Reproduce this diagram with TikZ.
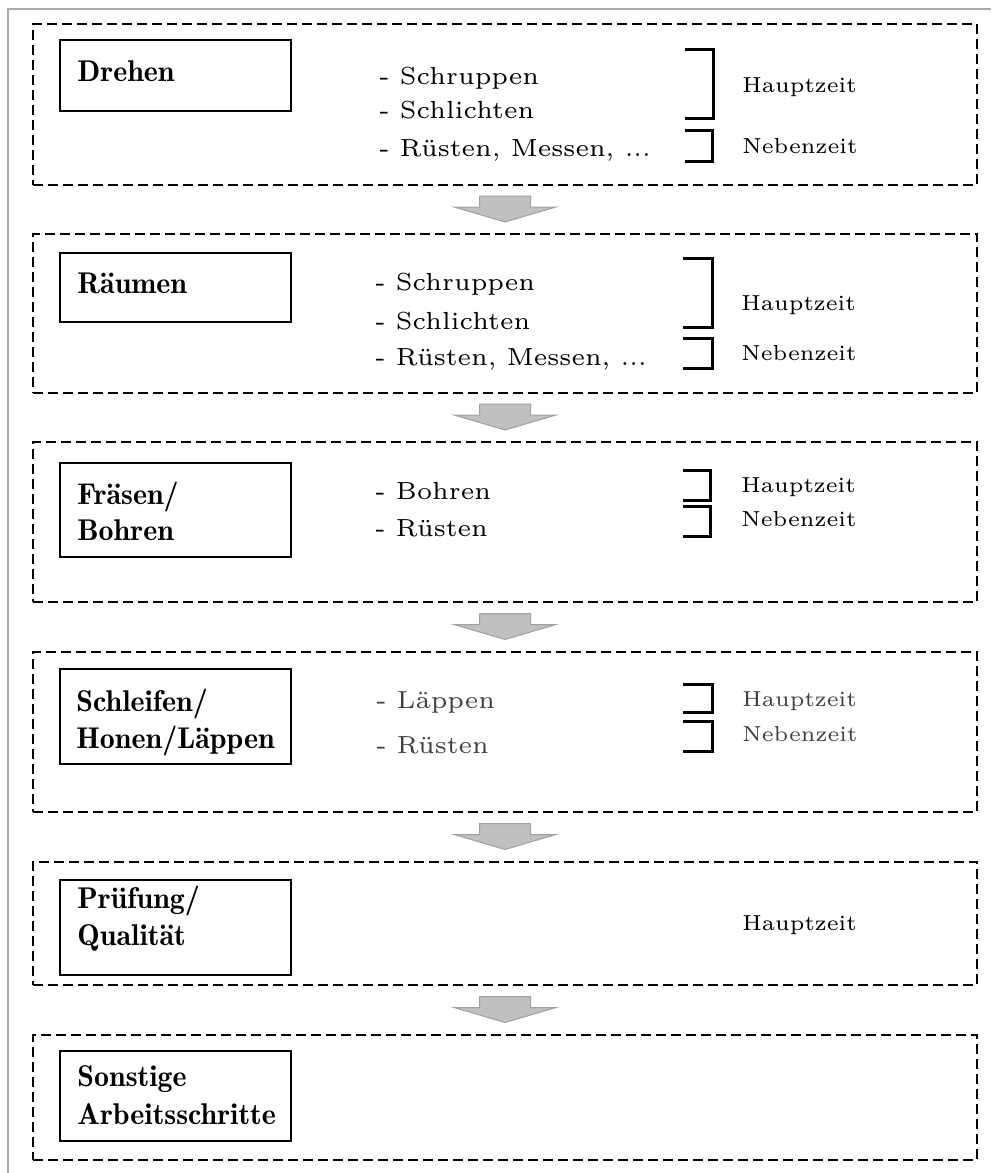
\documentclass[tikz,border=0pt]{standalone}
\usepackage{graphicx}
\usetikzlibrary{fit,calc}

% regular text uses the small optical size of Latin Modern, enlarged;
% titles use the demi-bold face
\newcommand{\itemtxt}[1]{\scalebox{2.06}{\fontsize{6}{7}\selectfont #1}}
\newcommand{\timetxt}[1]{\scalebox{1.81}{\fontsize{6}{7}\selectfont #1}}
\newcommand{\plaindots}{.{}.{}.}

\definecolor{framegray}{HTML}{AAAAAA}
\definecolor{arrowfill}{HTML}{C0C0C0}
\definecolor{arrowline}{HTML}{A0A0A0}
\definecolor{softtext}{HTML}{404040}

\tikzset{
  sectionbox/.style={draw=black, line width=1pt, dash pattern=on 5pt off 2.5pt, inner sep=0pt},
  titlebox/.style={draw=black, line width=0.9pt, inner sep=0pt},
  titletext/.style={anchor=base west, inner sep=0pt,
    font=\fontsize{15}{18.25}\fontseries{b}\selectfont},
  itemtext/.style={anchor=base west, inner sep=0pt},
  timetext/.style={anchor=base west, inner sep=0pt},
  bracket/.style={draw=black, line width=1.5pt},
  flowarrow/.style={fill=arrowfill, draw=arrowline, line width=0.5pt, line join=miter},
  framing/.style={draw=framegray, line width=0.8pt}
}

% block arrow centred on a coordinate, pointing down
\newcommand{\downarrowat}[1]{%
  \filldraw[flowarrow]
    ([shift={(-25.5,-13.5)}]#1) -- ([shift={(25.5,-13.5)}]#1)
    -- ([shift={(25.5,-2.5)}]#1) -- ([shift={(51,-2.5)}]#1)
    -- ([shift={(0,12.5)}]#1) -- ([shift={(-51,-2.5)}]#1)
    -- ([shift={(-25.5,-2.5)}]#1) -- cycle;}

% right-hand bracket: left end, vertical line, top, bottom
\newcommand{\timebracket}[4]{%
  \draw[bracket] (#1,#3) -- (#2,#3) -- (#2,#4) -- (#1,#4);}

\begin{document}
\begin{tikzpicture}[x=0.5pt, y=-0.5pt]
\useasboundingbox (0,0) rectangle (991,1173);

% page frame (top and left edges)
\draw[framing] (8,1173) -- (8,9) -- (991,9);

% process sections
\node[sectionbox, fit={(33,24) (977,185)}] (s1) {};
\node[sectionbox, fit={(33,234) (977,393)}] (s2) {};
\node[sectionbox, fit={(33,442) (977,602)}] (s3) {};
\node[sectionbox, fit={(33,652) (977,812)}] (s4) {};
\node[sectionbox, fit={(33,862) (977,985)}] (s5) {};
\node[sectionbox, fit={(33,1035) (977,1160)}] (s6) {};

% title boxes
\node[titlebox, fit={(60,40) (291,111)}] (b1) {};
\node[titlebox, fit={(60,252.7) (291,322.3)}] (b2) {};
\node[titlebox, fit={(60,463) (291,557)}] (b3) {};
\node[titlebox, fit={(60,669) (291,764)}] (b4) {};
\node[titlebox, fit={(60,880) (291,975)}] (b5) {};
\node[titlebox, fit={(60,1051) (291,1141)}] (b6) {};

% titles, one node per printed line
\node[titletext] (n1) at (77,81.7) {Drehen};
\node[titletext] (n2) at (77,293.3) {Räumen};
\node[titletext] (n3a) at (77,504) {Fräsen/};
\node[titletext] (n3b) at (77,540.7) {Bohren};
\node[titletext] (n4a) at (76,711.7) {Schleifen/};
\node[titletext] (n4b) at (76,748.3) {Honen/Läppen};
\node[titletext] (n5a) at (77,908.3) {Prüfung/};
\node[titletext] (n5b) at (77,945) {Qualität};
\node[titletext] (n6a) at (77,1086.7) {Sonstige};
\node[titletext] (n6b) at (77,1124) {Arbeitsschritte};

% Drehen
\node[itemtext] (d1) at (379,84) {\itemtxt{- Schruppen}};
\node[itemtext] (d2) at (379,118) {\itemtxt{- Schlichten}};
\node[itemtext] (d3) at (379,156) {\itemtxt{- Rüsten, Messen, \plaindots}};
\timebracket{685}{713}{49.3}{118.3}
\timebracket{685}{712}{130}{161.7}
\node[timetext] (h1) at (742,92.7) {\timetxt{Hauptzeit}};
\node[timetext] (k1) at (742,153.3) {\timetxt{Nebenzeit}};

% Räumen
\node[itemtext] (r1) at (375,290) {\itemtxt{- Schruppen}};
\node[itemtext] (r2) at (375,329.5) {\itemtxt{- Schlichten}};
\node[itemtext] (r3) at (375,365) {\itemtxt{- Rüsten, Messen, \plaindots}};
\timebracket{683}{712}{258.3}{327.3}
\timebracket{683}{712}{338.3}{368.3}
\node[timetext] (h2) at (741,310) {\timetxt{Hauptzeit}};
\node[timetext] (k2) at (741,360.5) {\timetxt{Nebenzeit}};

% Fräsen/Bohren
\node[itemtext] (f1) at (375,499.3) {\itemtxt{- Bohren}};
\node[itemtext] (f2) at (375,536.7) {\itemtxt{- Rüsten}};
\timebracket{683}{710}{470}{500}
\timebracket{683}{710}{506.7}{536.7}
\node[timetext] (h3) at (741,492) {\timetxt{Hauptzeit}};
\node[timetext] (k3) at (741,526) {\timetxt{Nebenzeit}};

% Schleifen/Honen/Läppen
\node[itemtext, text=softtext] (l1) at (376,708.3) {\itemtxt{- Läppen}};
\node[itemtext, text=softtext] (l2) at (376,753.3) {\itemtxt{- Rüsten}};
\timebracket{683}{712}{684.3}{712.7}
\timebracket{683}{712}{721.7}{751.7}
\node[timetext, text=softtext] (h4) at (742,706) {\timetxt{Hauptzeit}};
\node[timetext, text=softtext] (k4) at (742,741.7) {\timetxt{Nebenzeit}};

% Prüfung/Qualität
\node[timetext] (h5) at (742,930) {\timetxt{Hauptzeit}};

% flow arrows between the sections
\coordinate (a1) at ($(s1.south)!0.5!(s2.north)$);
\coordinate (a2) at ($(s2.south)!0.5!(s3.north)$);
\coordinate (a3) at ($(s3.south)!0.5!(s4.north)$);
\coordinate (a4) at ($(s4.south)!0.5!(s5.north)$);
\coordinate (a5) at ($(s5.south)!0.5!(s6.north)$);
\downarrowat{a1}
\downarrowat{a2}
\downarrowat{a3}
\downarrowat{a4}
\downarrowat{a5}
\end{tikzpicture}
\end{document}
